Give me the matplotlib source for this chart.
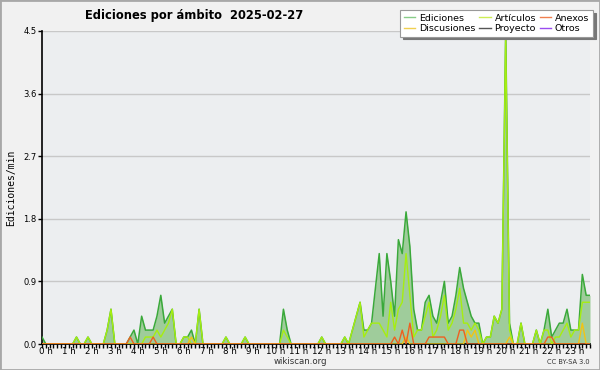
import numpy as np
import matplotlib
matplotlib.use('Agg')
import matplotlib.pyplot as plt
import matplotlib.transforms as mtransforms
from matplotlib.lines import Line2D
from matplotlib.patches import Rectangle

# edits per minute, one value per 10 minutes (6 per row = 1 hour)
ediciones = [
    0.1, 0, 0, 0, 0, 0,
    0, 0, 0, 0.1, 0, 0,
    0.1, 0, 0, 0, 0, 0.2,
    0.5, 0, 0, 0, 0, 0.1,
    0.2, 0, 0.4, 0.2, 0.2, 0.2,
    0.4, 0.7, 0.3, 0.4, 0.5, 0,
    0, 0.1, 0.1, 0.2, 0, 0.5,
    0, 0, 0, 0, 0, 0,
    0.1, 0, 0, 0, 0, 0.1,
    0, 0, 0, 0, 0, 0,
    0, 0, 0, 0.5, 0.2, 0,
    0, 0, 0, 0, 0, 0,
    0, 0.1, 0, 0, 0, 0,
    0, 0.1, 0, 0.2, 0.4, 0.6,
    0.2, 0.2, 0.3, 0.8, 1.3, 0.4,
    1.3, 0.9, 0.4, 1.5, 1.3, 1.9,
    1.4, 0.5, 0.2, 0.2, 0.6, 0.7,
    0.4, 0.3, 0.6, 0.9, 0.3, 0.4,
    0.7, 1.1, 0.8, 0.6, 0.4, 0.3,
    0.3, 0, 0.1, 0.1, 0.4, 0.3,
    0.5, 4.5, 0.3, 0, 0, 0.3,
    0, 0, 0, 0.2, 0, 0.2,
    0.5, 0.1, 0.2, 0.3, 0.3, 0.5,
    0.2, 0.2, 0.2, 1.0, 0.7, 0.7,
]
articulos = [
    0, 0, 0, 0, 0, 0,
    0, 0, 0, 0.1, 0, 0,
    0.1, 0, 0, 0, 0, 0.2,
    0.5, 0, 0, 0, 0, 0,
    0, 0, 0, 0.1, 0.1, 0.1,
    0.2, 0.1, 0.2, 0.3, 0.5, 0,
    0, 0.1, 0.1, 0, 0, 0.5,
    0, 0, 0, 0, 0, 0,
    0.1, 0, 0, 0, 0, 0.1,
    0, 0, 0, 0, 0, 0,
    0, 0, 0, 0.2, 0.1, 0,
    0, 0, 0, 0, 0, 0,
    0, 0.1, 0, 0, 0, 0,
    0, 0.1, 0, 0.2, 0.4, 0.6,
    0.1, 0.2, 0.3, 0.3, 0.3, 0.2,
    0.1, 0.6, 0.2, 0.5, 0.6, 1.3,
    0.7, 0.1, 0.2, 0.2, 0.4, 0.6,
    0.1, 0.2, 0.4, 0.7, 0.2, 0.3,
    0.5, 0.8, 0.3, 0.3, 0.2, 0.3,
    0.2, 0, 0.1, 0.1, 0.4, 0.3,
    0.5, 4.4, 0.2, 0, 0, 0.3,
    0, 0, 0, 0.2, 0, 0.2,
    0.2, 0, 0.1, 0.1, 0.2, 0.3,
    0.1, 0.2, 0.2, 0.6, 0.6, 0.6,
]
anexos = [
    0, 0, 0, 0, 0, 0,
    0, 0, 0, 0, 0, 0,
    0, 0, 0, 0, 0, 0,
    0, 0, 0, 0, 0, 0.1,
    0, 0, 0, 0, 0, 0.1,
    0, 0, 0, 0, 0, 0,
    0, 0, 0, 0, 0, 0,
    0, 0, 0, 0, 0, 0,
    0, 0, 0, 0, 0, 0,
    0, 0, 0, 0, 0, 0,
    0, 0, 0, 0, 0, 0,
    0, 0, 0, 0, 0, 0,
    0, 0, 0, 0, 0, 0,
    0, 0, 0, 0, 0, 0,
    0, 0, 0, 0, 0, 0,
    0, 0, 0.1, 0, 0.2, 0,
    0.3, 0, 0, 0, 0, 0.1,
    0.1, 0.1, 0.1, 0.1, 0, 0,
    0, 0.2, 0.2, 0, 0, 0,
    0, 0, 0, 0, 0, 0,
    0, 0, 0, 0, 0, 0,
    0, 0, 0, 0, 0, 0,
    0.1, 0.1, 0, 0, 0, 0,
    0, 0, 0, 0, 0, 0,
]
discusiones = [
    0, 0, 0, 0, 0, 0,
    0, 0, 0, 0, 0, 0,
    0, 0, 0, 0, 0, 0,
    0, 0, 0, 0, 0, 0,
    0, 0, 0, 0, 0, 0,
    0, 0, 0, 0, 0, 0,
    0, 0, 0, 0.1, 0, 0,
    0, 0, 0, 0, 0, 0,
    0, 0, 0, 0, 0, 0,
    0, 0, 0, 0, 0, 0,
    0, 0, 0, 0, 0, 0,
    0, 0, 0, 0, 0, 0,
    0, 0, 0, 0, 0, 0,
    0, 0, 0, 0, 0, 0,
    0, 0, 0, 0, 0, 0,
    0, 0, 0, 0, 0, 0.1,
    0, 0, 0, 0, 0, 0,
    0, 0, 0, 0, 0, 0,
    0, 0, 0, 0.2, 0.1, 0.2,
    0, 0, 0, 0, 0, 0,
    0, 0, 0.1, 0, 0, 0,
    0, 0, 0, 0, 0, 0,
    0, 0, 0, 0, 0, 0,
    0, 0, 0, 0.3, 0, 0,
]
hour_labels = ['{} h'.format(h) for h in range(24)]
y_ticks = [0.0, 0.9, 1.8, 2.7, 3.6, 4.5]
legend_names = ['Ediciones', 'Discusiones', 'Artículos', 'Proyecto', 'Anexos', 'Otros']
legend_colors = ['#88cc88', '#f0d050', '#cdee55', '#555555', '#f08050', '#9a4cf0']

x = np.arange(len(ediciones))

fig = plt.figure(figsize=(6, 3.7), dpi=100, facecolor='#f1f1f1')
ax = fig.add_axes([42 / 600, 26 / 370, 548 / 600, 313 / 370])
ax.set_facecolor('#eceef0')

ax.fill_between(x, ediciones, color='#9fcc9b', lw=0, zorder=2)
ax.plot(x, ediciones, color='#3aa93a', lw=1.1, zorder=3)
ax.plot(x, articulos, color='#a6ee10', lw=1.0, zorder=4)
ax.plot(x, discusiones, color='#f2c414', lw=1.0, zorder=5)
ax.plot(x, anexos, color='#ee6020', lw=1.0, zorder=6)

ax.set_xlim(0, len(ediciones) - 1)
ax.set_ylim(0, 4.5)
ax.set_yticks(y_ticks)
ax.set_yticklabels(['{:.1f}'.format(v) for v in y_ticks], fontsize=6)
ax.yaxis.grid(True, color='#c8c8c8', lw=1)
ax.set_axisbelow(True)

ax.set_xticks(np.arange(0, 144, 6))
ax.set_xticks(x, minor=True)
ax.set_xticklabels(hour_labels, fontsize=6.3)
ax.tick_params(axis='x', which='both', direction='out', length=2.8, width=1, pad=0)
ax.tick_params(axis='y', direction='out', length=3, width=1, pad=1)
offset = mtransforms.ScaledTranslation(4 / 100, 1 / 100, fig.dpi_scale_trans)
for lab in ax.get_xticklabels():
    lab.set_transform(lab.get_transform() + offset)

for side in ['top', 'right']:
    ax.spines[side].set_visible(False)
ax.spines['left'].set_linewidth(1.2)
ax.spines['bottom'].set_linewidth(1.2)

ax.set_ylabel('Ediciones/min', fontsize=7, family='DejaVu Sans Mono', labelpad=5)

fig.text(85 / 600, 1 - 15 / 370, 'Ediciones por ámbito  2025-02-27',
         fontsize=8.3, weight='bold', va='center', ha='left')
fig.text(300 / 600, 1 - 362 / 370, 'wikiscan.org', fontsize=6.2,
         color='#333333', ha='center', va='center')
fig.text(590 / 600, 1 - 362 / 370, 'CC BY-SA 3.0', fontsize=4.8,
         color='#333333', ha='right', va='center')

handles = [Line2D([], [], color=c, lw=1) for c in legend_colors]
leg = fig.legend(handles, legend_names, ncol=3, loc='upper right',
                 bbox_to_anchor=(593 / 600, 1 - 10 / 370), fontsize=6.8,
                 frameon=True, fancybox=False, shadow={'color': '#777777', 'alpha': 1},
                 edgecolor='#999999', handlelength=1.2, handletextpad=0.4,
                 columnspacing=0.4, labelspacing=0.12, borderpad=0.4,
                 borderaxespad=0)
leg.get_frame().set_linewidth(0.8)

fig.patches.append(Rectangle((0, 0), 1, 1, transform=fig.transFigure,
                             fill=False, ec='#a8a8a8', lw=2))

fig.savefig('out.png', dpi=100, facecolor=fig.get_facecolor())
